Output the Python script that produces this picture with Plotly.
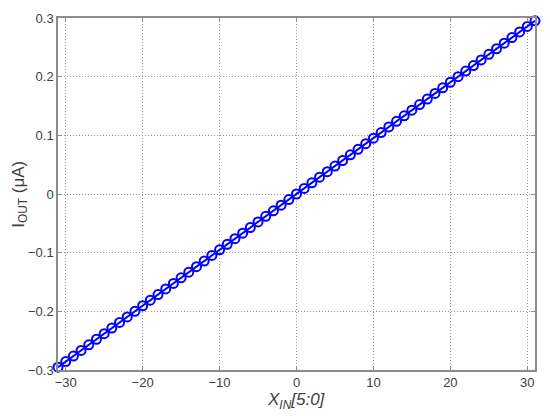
import plotly.graph_objects as go

x_codes = list(range(-31, 32))
i_out = [-0.2952, -0.2857, -0.2762, -0.2667, -0.2571, -0.2476, -0.2381, -0.2286,
         -0.2190, -0.2095, -0.2000, -0.1905, -0.1810, -0.1714, -0.1619, -0.1524,
         -0.1429, -0.1333, -0.1238, -0.1143, -0.1048, -0.0952, -0.0857, -0.0762,
         -0.0667, -0.0571, -0.0476, -0.0381, -0.0286, -0.0190, -0.0095, 0.0,
         0.0095, 0.0190, 0.0286, 0.0381, 0.0476, 0.0571, 0.0667, 0.0762,
         0.0857, 0.0952, 0.1048, 0.1143, 0.1238, 0.1333, 0.1429, 0.1524,
         0.1619, 0.1714, 0.1810, 0.1905, 0.2000, 0.2095, 0.2190, 0.2286,
         0.2381, 0.2476, 0.2571, 0.2667, 0.2762, 0.2857, 0.2952]
x_ticks = [-30, -20, -10, 0, 10, 20, 30]
y_ticks = [-0.3, -0.2, -0.1, 0, 0.1, 0.2, 0.3]

fig = go.Figure()
fig.add_trace(go.Scatter(
    x=x_codes, y=i_out, mode="lines+markers",
    line=dict(color="#0000ff", width=2),
    marker=dict(symbol="circle-open", size=9, color="#0000ff", line=dict(width=2, color="#0000ff")),
    cliponaxis=False, showlegend=False))

font_fam = "Liberation Sans, Arial"
axis_common = dict(
    showline=True, linecolor="#8c8c8c", linewidth=1.5, mirror="ticks",
    showgrid=True, gridcolor="#9a9a9a", griddash="1px,2px", gridwidth=1,
    ticks="inside", ticklen=4, tickcolor="#8c8c8c", zeroline=False,
    automargin=False,
    tickfont=dict(family=font_fam, size=13, color="#404040"),
)

fig.update_layout(
    width=550, height=416,
    margin=dict(l=58, r=15, t=18, b=46, autoexpand=False),
    paper_bgcolor="white", plot_bgcolor="white",
    xaxis=dict(range=[-31, 31], tickvals=x_ticks,
               ticktext=[str(v).replace("-", "\u2212") for v in x_ticks],
               **axis_common),
    yaxis=dict(range=[-0.3, 0.3], tickvals=y_ticks,
               ticktext=["\u22120.3", "\u22120.2", "\u22120.1", "0", "0.1", "0.2", "0.3"],
               **axis_common),
    annotations=[
        dict(text="<i>X<sub>IN</sub>[5:0]</i>", xref="paper", yref="paper",
             x=0.5, y=-0.088, xanchor="center", yanchor="middle", showarrow=False,
             font=dict(family=font_fam, size=17, color="#404040")),
        dict(text="I<sub>OUT</sub> (μA)", xref="paper", yref="paper",
             x=-0.08, y=0.5, xanchor="center", yanchor="middle", showarrow=False,
             textangle=-90, font=dict(family=font_fam, size=17, color="#404040")),
    ],
)

fig.write_html("out.html", config={"displayModeBar": False},
               post_script="document.body.style.margin='0px';document.body.style.overflow='hidden';")
